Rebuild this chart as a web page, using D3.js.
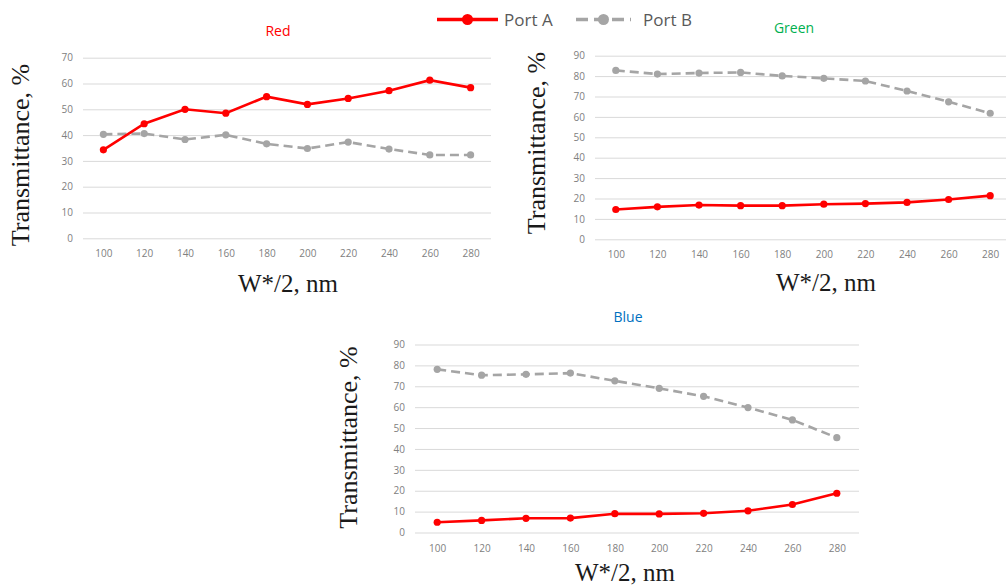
<!DOCTYPE html>
<html lang="en">
<head>
  <meta charset="UTF-8">
  <title>Transmittance vs W*/2</title>
  <script src="https://d3js.org/d3.v7.min.js"></script>
  <style>
    body { margin: 0; background: #fff; }
    .tick text { font-family: "Open Sans", sans-serif; font-size: 10px; fill: #808080; }
    .axis-title { font-family: "Liberation Serif", "Times New Roman", serif; fill: #1a1a1a; }
    .panel-title { font-family: "Open Sans", sans-serif; font-size: 14px; }
    .legend text { font-family: "Open Sans", sans-serif; font-size: 17px; fill: #595959; }
  </style>
</head>
<body>
<div class="main"></div>
<script>
  // x categories, W*/2 in nm
  var categories = [100, 120, 140, 160, 180, 200, 220, 240, 260, 280];

  // Red panel
  var redPortA = [34.3, 44.4, 50.0, 48.5, 54.9, 51.9, 54.2, 57.2, 61.3, 58.4];
  var redPortB = [40.3, 40.6, 38.3, 40.1, 36.6, 34.8, 37.3, 34.6, 32.3, 32.3];
  var redTicks = [0, 10, 20, 30, 40, 50, 60, 70];

  // Green panel
  var greenPortA = [14.6, 15.9, 16.8, 16.5, 16.5, 17.2, 17.5, 18.1, 19.5, 21.4];
  var greenPortB = [82.8, 81.0, 81.5, 81.8, 80.1, 78.9, 77.6, 72.7, 67.4, 61.8];
  var greenTicks = [0, 10, 20, 30, 40, 50, 60, 70, 80, 90];

  // Blue panel
  var bluePortA = [4.9, 5.8, 6.8, 6.9, 9.0, 8.9, 9.2, 10.4, 13.4, 18.8];
  var bluePortB = [78.1, 75.3, 75.7, 76.3, 72.6, 69.0, 65.2, 59.8, 53.9, 45.4];
  var blueTicks = [0, 10, 20, 30, 40, 50, 60, 70, 80, 90];

  var seriesNames = ["Port A", "Port B"];

  let width = 1006;
  let height = 588;
  let svg = d3.select(".main").append("svg").attr("width", width).attr("height", height).style("display", "block");

  var colorA = "#ff0000";
  var colorB = "#a5a5a5";

  function drawPanel(p) {
    var x = d3.scalePoint().domain(categories).range([p.left, p.right]).padding(0.5);
    var y = d3.scaleLinear().domain([0, d3.max(p.ticks)]).range([p.bottom, p.top]);

    // gridlines + y labels
    var gy = svg.append("g").attr("transform", "translate(" + p.left + ",0)")
      .call(d3.axisLeft(y).tickValues(p.ticks).tickSize(-(p.right - p.left)).tickPadding(10));
    gy.select(".domain").remove();
    gy.selectAll(".tick line").style("stroke", "#d9d9d9").style("stroke-width", 1);

    // x labels
    var gx = svg.append("g").attr("transform", "translate(0," + p.bottom + ")")
      .call(d3.axisBottom(x).tickSize(0).tickPadding(12));
    gx.select(".domain").remove();

    var line = d3.line().x(function(d, i) { return x(categories[i]); }).y(function(d) { return y(d); });

    // Port B (dashed grey)
    svg.append("path").datum(p.b).attr("d", line).attr("fill", "none")
      .style("stroke", colorB).style("stroke-width", 2.6).style("stroke-dasharray", "9,5");
    svg.selectAll(null).data(p.b).enter().append("circle")
      .attr("cx", function(d, i) { return x(categories[i]); }).attr("cy", function(d) { return y(d); })
      .attr("r", 3.6).style("fill", colorB);

    // Port A (solid red)
    svg.append("path").datum(p.a).attr("d", line).attr("fill", "none")
      .style("stroke", colorA).style("stroke-width", 2.6);
    svg.selectAll(null).data(p.a).enter().append("circle")
      .attr("cx", function(d, i) { return x(categories[i]); }).attr("cy", function(d) { return y(d); })
      .attr("r", 3.6).style("fill", colorA);

    // panel title
    svg.append("text").attr("class", "panel-title").attr("x", p.titleX).attr("y", p.titleY)
      .attr("text-anchor", "middle").style("fill", p.titleColor).text(p.title);

    // y axis title
    svg.append("text").attr("class", "axis-title").attr("text-anchor", "middle")
      .attr("transform", "translate(" + p.yLabelX + "," + p.yLabelY + ") rotate(-90)")
      .style("font-size", "26px").text("Transmittance, %");

    // x axis title
    svg.append("text").attr("class", "axis-title").attr("text-anchor", "middle")
      .attr("x", p.xLabelX).attr("y", p.xLabelY).style("font-size", "25px").text("W*/2, nm");
  }

  drawPanel({ a: redPortA, b: redPortB, ticks: redTicks, left: 83, right: 491, top: 57.7, bottom: 238.3,
    title: "Red", titleColor: "#ff0000", titleX: 278, titleY: 36, yLabelX: 29, yLabelY: 155, xLabelX: 288, xLabelY: 292 });
  drawPanel({ a: greenPortA, b: greenPortB, ticks: greenTicks, left: 595, right: 1011, top: 55.7, bottom: 239.3,
    title: "Green", titleColor: "#00b050", titleX: 794, titleY: 33, yLabelX: 545, yLabelY: 143, xLabelX: 826, xLabelY: 291 });
  drawPanel({ a: bluePortA, b: bluePortB, ticks: blueTicks, left: 415, right: 859, top: 344.5, bottom: 532.5,
    title: "Blue", titleColor: "#0070c0", titleX: 628, titleY: 322, yLabelX: 356.5, yLabelY: 437.5, xLabelX: 625, xLabelY: 581 });

  // legend
  var legend = svg.append("g").attr("class", "legend");
  var legendItems = [
    { name: seriesNames[0], color: colorA, dash: null, x1: 437, x2: 498, textX: 504 },
    { name: seriesNames[1], color: colorB, dash: "12,6", x1: 576, x2: 631, textX: 643 }
  ];
  legendItems.forEach(function(item) {
    legend.append("line").attr("x1", item.x1).attr("x2", item.x2).attr("y1", 19.5).attr("y2", 19.5)
      .style("stroke", item.color).style("stroke-width", 3.5).style("stroke-dasharray", item.dash);
    legend.append("circle").attr("cx", (item.x1 + item.x2) / 2).attr("cy", 19.5).attr("r", 5.5).style("fill", item.color);
    legend.append("text").attr("x", item.textX).attr("y", 26).text(item.name);
  });
</script>
</body>
</html>
